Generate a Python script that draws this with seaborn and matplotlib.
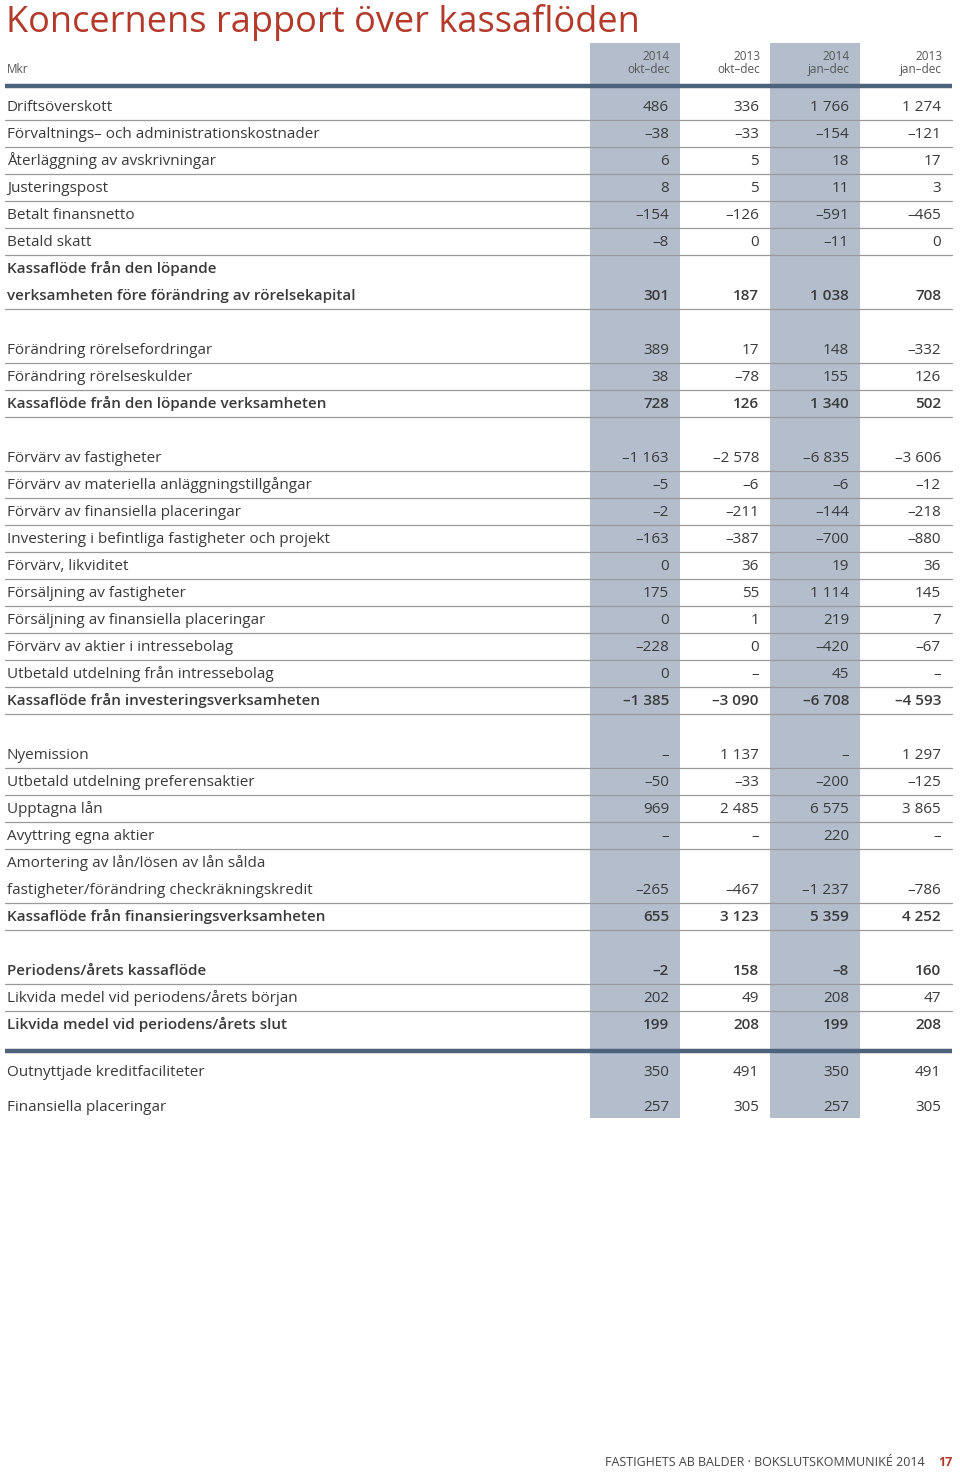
import matplotlib
matplotlib.use("Agg")
import matplotlib.pyplot as plt
from matplotlib.patches import Rectangle
import seaborn as sns

## Table content (Mkr)
labels = [
    "Driftsöverskott",
    "Förvaltnings– och administrationskostnader",
    "Återläggning av avskrivningar",
    "Justeringspost",
    "Betalt finansnetto",
    "Betald skatt",
    "Kassaflöde från den löpande\nverksamheten före förändring av rörelsekapital",
    "Förändring rörelsefordringar",
    "Förändring rörelseskulder",
    "Kassaflöde från den löpande verksamheten",
    "Förvärv av fastigheter",
    "Förvärv av materiella anläggningstillgångar",
    "Förvärv av finansiella placeringar",
    "Investering i befintliga fastigheter och projekt",
    "Förvärv, likviditet",
    "Försäljning av fastigheter",
    "Försäljning av finansiella placeringar",
    "Förvärv av aktier i intressebolag",
    "Utbetald utdelning från intressebolag",
    "Kassaflöde från investeringsverksamheten",
    "Nyemission",
    "Utbetald utdelning preferensaktier",
    "Upptagna lån",
    "Avyttring egna aktier",
    "Amortering av lån/lösen av lån sålda\nfastigheter/förändring checkräkningskredit",
    "Kassaflöde från finansieringsverksamheten",
    "Periodens/årets kassaflöde",
    "Likvida medel vid periodens/årets början",
    "Likvida medel vid periodens/årets slut",
    "Outnyttjade kreditfaciliteter",
    "Finansiella placeringar",
]

q4_2014 = [486, -38, 6, 8, -154, -8, 301, 389, 38, 728,
           -1163, -5, -2, -163, 0, 175, 0, -228, 0, -1385,
           None, -50, 969, None, -265, 655, -2, 202, 199, 350, 257]
q4_2013 = [336, -33, 5, 5, -126, 0, 187, 17, -78, 126,
           -2578, -6, -211, -387, 36, 55, 1, 0, None, -3090,
           1137, -33, 2485, None, -467, 3123, 158, 49, 208, 491, 305]
fy_2014 = [1766, -154, 18, 11, -591, -11, 1038, 148, 155, 1340,
           -6835, -6, -144, -700, 19, 1114, 219, -420, 45, -6708,
           None, -200, 6575, 220, -1237, 5359, -8, 208, 199, 350, 257]
fy_2013 = [1274, -121, 17, 3, -465, 0, 708, -332, 126, 502,
           -3606, -12, -218, -880, 36, 145, 7, -67, None, -4593,
           1297, -125, 3865, None, -786, 4252, 160, 47, 208, 491, 305]

col_years = ["2014", "2013", "2014", "2013"]
col_periods = ["okt–dec", "okt–dec", "jan–dec", "jan–dec"]
bold_rows = [6, 9, 19, 25, 26, 28]

## layout (pixels)
gap_after = [6, 9, 19, 25]     # blank line after these subtotal rows
sum_end = 28                   # thick rule after this row
row_h = 27
base_off = 5                   # baseline below row centre
col_right = [669, 759, 849, 941]
band_left = [590, 770]
band_w = 90
fs = 11

text_col = "#3a3a3a"
rule_col = "#9a9a9a"
thick_col = "#4d627b"
band_col = "#b3bdcc"
red = "#b33a2b"


def fmt(v):
    if v is None:
        return "–"
    s = f"{abs(v):,}".replace(",", " ")
    return ("–" + s) if v < 0 else s


sns.set_theme(style="white")
plt.rcParams["font.family"] = ["Open Sans", "DejaVu Sans"]

fig = plt.figure(figsize=(9.6, 14.75), dpi=100)
ax = fig.add_axes([0, 0, 1, 1])
ax.set_xlim(0, 960)
ax.set_ylim(1475, 0)
ax.axis("off")

# shaded 2014 columns
for bl in band_left:
    ax.add_patch(Rectangle((bl, 43), band_w, 1075, color=band_col, lw=0, zorder=0))

ax.text(6, 32, "Koncernens rapport över kassaflöden", color=red,
        fontsize=26, va="baseline", ha="left")

# header
ax.text(7, 73, "Mkr", fontsize=8.5, color="#555555", va="baseline")
for x, yr, per in zip(col_right, col_years, col_periods):
    ax.text(x + 1, 60, yr, fontsize=8.5, color="#555555", ha="right", va="baseline")
    ax.text(x + 1, 73, per, fontsize=8.5, color="#555555", ha="right", va="baseline")
ax.plot([5, 952], [85.5, 85.5], color=thick_col, lw=3.2, solid_capstyle="butt")

cols = [q4_2014, q4_2013, fy_2014, fy_2013]
y = 106
for i, lab in enumerate(labels):
    if i > sum_end:
        break
    weight = "semibold" if i in bold_rows else "normal"
    parts = lab.split("\n")
    for j, p in enumerate(parts):
        ax.text(7, y + j * row_h + base_off, p, fontsize=fs, color=text_col,
                fontweight=weight, va="baseline", ha="left")
    y_val = y + (len(parts) - 1) * row_h
    for x, c in zip(col_right, cols):
        ax.text(x, y_val + base_off, fmt(c[i]), fontsize=fs, color=text_col,
                fontweight=weight, va="baseline", ha="right")
    if i < sum_end:
        ax.plot([5, 952], [y_val + 13.5] * 2, color=rule_col, lw=0.9)
    y = y_val + row_h
    if i in gap_after:
        y += row_h

ax.plot([5, 952], [1050.5, 1050.5], color=thick_col, lw=3.2, solid_capstyle="butt")

for k, y_extra in zip(range(sum_end + 1, len(labels)), [1071, 1106]):
    ax.text(7, y_extra + base_off, labels[k], fontsize=fs, color=text_col,
            va="baseline")
    for x, c in zip(col_right, cols):
        ax.text(x, y_extra + base_off, fmt(c[k]), fontsize=fs, color=text_col,
                va="baseline", ha="right")

# footer
ax.text(925, 1466, "FASTIGHETS AB BALDER · BOKSLUTSKOMMUNIKÉ 2014",
        fontsize=9, color="#444444", ha="right", va="baseline")
ax.text(953, 1466, "17", fontsize=9, color=red, fontweight="bold",
        ha="right", va="baseline")

fig.savefig("out.png", dpi=100)
